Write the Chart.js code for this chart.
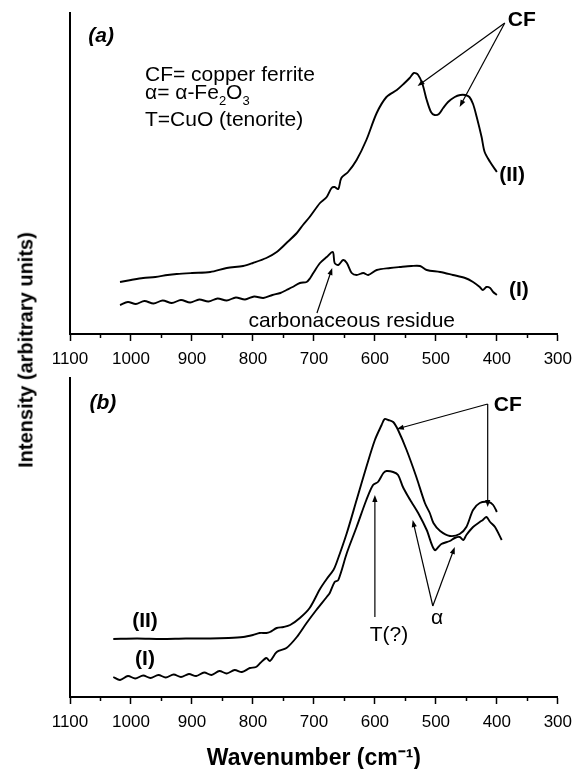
<!DOCTYPE html>
<html lang="en">
<head>
<meta charset="UTF-8">
<title>Raman spectra - copper ferrite</title>
<script src="https://cdn.jsdelivr.net/npm/chart.js"></script>
<style>
  body { margin: 0; background: #fff; width: 576px; height: 769px; position: relative; overflow: hidden;
         font-family: "Liberation Sans", Arial, sans-serif; }
  #chartA { position: absolute; left: 0; top: 0; }
  #chartB { position: absolute; left: 0; top: 370px; }
  #ytitle { position: absolute; left: 26px; top: 350px; transform: translate(-50%, -50%) rotate(-90deg);
            font-weight: bold; font-size: 20px; white-space: nowrap; color: #000; }
</style>
</head>
<body>
<canvas id="chartA" width="580" height="370"></canvas>
<canvas id="chartB" width="580" height="399"></canvas>
<div id="ytitle">Intensity (arbitrary units)</div>

<script>
// ---- data (wavenumber in cm-1, intensity in arbitrary units) ----
// panel (a)
const aWnII  = [1018,1000, 980, 960, 940, 925, 900, 870, 843, 816, 800, 778, 761, 745, 728, 718, 707, 690, 679, 671, 666, 660, 655, 644, 630, 614, 597, 581, 564, 553, 543, 536, 529, 522, 515, 508, 502, 495, 488, 480, 469, 460, 452, 445, 439, 433, 425, 420, 411, 400];
const aIntII = [  52,  54,  56,  57,  59,  60,  61,  62,  66,  68,  71,  76,  82,  91, 101, 109, 117, 131, 137, 146, 147, 145, 156, 162, 174, 194, 221, 237, 244, 250, 256, 261, 259, 250, 234, 222, 219, 220, 226, 232, 237, 239, 239, 237, 230, 217, 197, 182, 172, 162];
const aWnI   = [1018,1005, 992, 978, 963, 948, 933, 918, 903, 888, 873, 858, 843, 828, 813, 798, 783, 768, 755, 745, 735, 723, 712, 706, 701, 690, 679, 669, 666, 660, 652, 646, 638, 630, 619, 611, 597, 575, 559, 540, 526, 515, 493, 472, 452, 439, 428, 423, 417, 411, 406, 400];
const aIntI  = [  29,  32,  30,  33,30.5,33.5,  31,  34,31.5,34.5,32.5,35.5,33.5,36.5,34.5,37.5,  36,  39,  41,  44,  47,  51,  52,  56,  61,  71,  77,  82,  71,  69,  74,  71,  61,  59,  61,  59,  64,  66,  67,  68,  68,  64,  62,  59,  56,  52,  47,  44,  47,  46,  42,  39];
// panel (b)
const bWnII  = [1029, 990, 950, 910, 870, 840, 816, 800, 789, 778, 772, 761, 750, 739, 723, 707, 690, 679, 668, 663, 646, 630, 614, 600, 589, 584, 578, 570, 562, 548, 532, 518, 510, 504, 493, 477, 461, 450, 439, 428, 414, 406, 400];
const bIntII = [  58,58.5,  58,58.5,58.5,  59,  60,  62,  64,  64,  65,  69,  70,  72,  79,  89, 108, 118, 127, 134, 164, 197, 230, 257, 272, 278, 277, 275, 267, 247, 220, 194, 184, 174, 166, 161, 163, 170, 187, 194, 195, 192, 185];
const bWnI   = [1029,1018,1005, 993, 980, 968, 955, 943, 930, 918, 905, 893, 880, 868, 855, 843, 830, 818, 805, 795, 788, 778, 772, 761, 745, 728, 712, 696, 679, 674, 666, 660, 646, 630, 614, 603, 595, 586, 581, 570, 562, 554, 545, 540, 529, 515, 502, 491, 477, 469, 461, 455, 450, 439, 428, 423, 417, 411, 403, 392];
const bIntI  = [  20,  17,  21,18.5,21.5,  19,  22,19.5,22.5,  20,  23,  21,24.5,  22,  26,23.5,  27,  25,  29,  30,  34,  39,  36,  45,  49,  60,  74,  87, 100, 104, 115, 117, 144, 170, 197, 212, 215, 224, 226, 225, 222, 210, 200, 195, 184, 167, 147, 153, 156, 159, 160, 157, 162, 170, 175, 177, 180, 175, 170, 157];

const xTicks = [1100, 1000, 900, 800, 700, 600, 500, 400, 300];
const xMinorTicks = [1050, 950, 850, 750, 650, 550, 450, 350];

// ---- annotations (placed in data units) ----
const textsA = [
  { parts: [['(a)', 0]], wn: 1070, v: 298, style: 'italic bold', align: 'left' },
  { parts: [['CF= copper ferrite', 0]], wn: 977, v: 259, style: '', align: 'left' },
  { parts: [['\u03b1= \u03b1-Fe', 0], ['2', 1], ['O', 0], ['3', 1]], wn: 977, v: 241, style: '', align: 'left' },
  { parts: [['T=CuO (tenorite)', 0]], wn: 977, v: 214, style: '', align: 'left' },
  { parts: [['CF', 0]], wn: 359, v: 314, style: 'bold', align: 'center' },
  { parts: [['(II)', 0]], wn: 375, v: 159, style: 'bold', align: 'center' },
  { parts: [['(I)', 0]], wn: 364, v: 44, style: 'bold', align: 'center' },
  { parts: [['carbonaceous residue', 0]], wn: 638, v: 13, style: '', align: 'center' }
];
const arrowsA = [
  [[387, 311], [530, 248]],
  [[387, 311], [461, 227]],
  [[695, 21], [670, 66]]
];
const textsB = [
  { parts: [['(b)', 0]], wn: 1068, v: 294, style: 'italic bold', align: 'left' },
  { parts: [['CF', 0]], wn: 382, v: 292, style: 'bold', align: 'center' },
  { parts: [['(II)', 0]], wn: 977, v: 76, style: 'bold', align: 'center' },
  { parts: [['(I)', 0]], wn: 977, v: 38, style: 'bold', align: 'center' },
  { parts: [['T(?)', 0]], wn: 577, v: 62, style: '', align: 'center' },
  { parts: [['\u03b1', 0]], wn: 498, v: 79, style: '', align: 'center' }
];
const arrowsB = [
  [[415, 293], [564, 268]],
  [[415, 293], [415, 190]],
  [[600, 80], [600, 202]],
  [[505, 91], [538, 177]],
  [[505, 91], [469, 150]]
];

const FAMILY = '"Liberation Sans", Arial, sans-serif';
Chart.defaults.font.family = FAMILY;
Chart.defaults.color = '#000';

function points(wn, vals) {
  return wn.map((w, i) => ({ x: w, y: vals[i] }));
}

function curve(wn, vals) {
  return {
    data: points(wn, vals),
    borderColor: '#000',
    borderWidth: 1.9,
    pointRadius: 0,
    tension: 0.3,
    fill: false
  };
}

function drawRich(ctx, parts, x, y, size, style, align) {
  const small = Math.round(size * 0.62);
  const widths = parts.map(([t, m]) => {
    ctx.font = `${style} ${m ? small : size}px ${FAMILY}`;
    return ctx.measureText(t).width;
  });
  const total = widths.reduce((a, b) => a + b, 0);
  let cx = align === 'center' ? x - total / 2 : x;
  ctx.textAlign = 'left';
  ctx.textBaseline = 'middle';
  parts.forEach(([t, m], i) => {
    ctx.font = `${style} ${m ? small : size}px ${FAMILY}`;
    const dy = m === 1 ? size * 0.38 : (m === 2 ? -size * 0.38 : 0);
    ctx.fillText(t, cx, y + dy);
    cx += widths[i];
  });
}

function annotations(texts, arrows) {
  return {
    id: 'annot',
    afterDatasetsDraw(chart) {
      const { ctx, scales } = chart;
      const X = v => scales.x.getPixelForValue(v);
      const Y = v => scales.y.getPixelForValue(v);
      ctx.save();
      ctx.strokeStyle = '#000';
      ctx.fillStyle = '#000';
      ctx.lineWidth = 1.2;
      arrows.forEach(([a, b]) => {
        const x0 = X(a[0]), y0 = Y(a[1]), x1 = X(b[0]), y1 = Y(b[1]);
        const ang = Math.atan2(y1 - y0, x1 - x0);
        const L = 7, W = 2.6;
        ctx.beginPath();
        ctx.moveTo(x0, y0);
        ctx.lineTo(x1 - Math.cos(ang) * L * 0.8, y1 - Math.sin(ang) * L * 0.8);
        ctx.stroke();
        ctx.beginPath();
        ctx.moveTo(x1, y1);
        ctx.lineTo(x1 - Math.cos(ang) * L - Math.sin(ang) * W, y1 - Math.sin(ang) * L + Math.cos(ang) * W);
        ctx.lineTo(x1 - Math.cos(ang) * L + Math.sin(ang) * W, y1 - Math.sin(ang) * L - Math.cos(ang) * W);
        ctx.closePath();
        ctx.fill();
      });
      texts.forEach(t => drawRich(ctx, t.parts, X(t.wn), Y(t.v), 21, t.style, t.align));
      ctx.restore();
    }
  };
}

function makeChart(id, datasets, yMax, padTop, axisHeight, texts, arrows, title) {
  return new Chart(document.getElementById(id), {
    type: 'line',
    data: { datasets },
    options: {
      responsive: false,
      animation: false,
      events: [],
      layout: { padding: { left: 70, right: 18, top: padTop, bottom: 0 } },
      plugins: { legend: { display: false }, tooltip: { enabled: false } },
      scales: {
        x: {
          type: 'linear', position: 'bottom', reverse: true, min: 300, max: 1100, weight: 1,
          afterBuildTicks: s => { s.ticks = xTicks.map(v => ({ value: v })); },
          afterFit: s => { s.height = axisHeight; },
          ticks: { autoSkip: false, maxRotation: 0, padding: 8, color: '#000',
                   font: { size: 17 }, callback: v => String(v) },
          grid: { drawOnChartArea: false, drawTicks: true, tickLength: 7, tickWidth: 1.5, tickColor: '#000' },
          border: { display: true, color: '#000', width: 2 },
          title: title ? { display: true, text: title, color: '#000',
                           font: { size: 23, weight: 'bold', lineHeight: 1 }, padding: { top: 0, bottom: -1 } }
                       : { display: false }
        },
        xMinor: {
          type: 'linear', position: 'bottom', reverse: true, min: 300, max: 1100, weight: 0,
          afterBuildTicks: s => { s.ticks = xMinorTicks.map(v => ({ value: v })); },
          afterFit: s => { s.height = 0; },
          ticks: { display: false },
          grid: { drawOnChartArea: false, drawTicks: true, tickLength: 4, tickWidth: 1.5, tickColor: '#000' },
          border: { display: false }
        },
        y: {
          min: 0, max: yMax,
          afterFit: s => { s.width = 0; },
          ticks: { display: false },
          grid: { display: false, drawTicks: false },
          border: { display: true, color: '#000', width: 2 }
        }
      }
    },
    plugins: [annotations(texts, arrows)]
  });
}

makeChart('chartA', [curve(aWnII, aIntII), curve(aWnI, aIntI)], 321, 13, 36, textsA, arrowsA, null);
makeChart('chartB', [curve(bWnII, bIntII), curve(bWnI, bIntI)], 319, 8, 72, textsB, arrowsB, 'Wavenumber (cm\u207b\u00b9)');
</script>
</body>
</html>
